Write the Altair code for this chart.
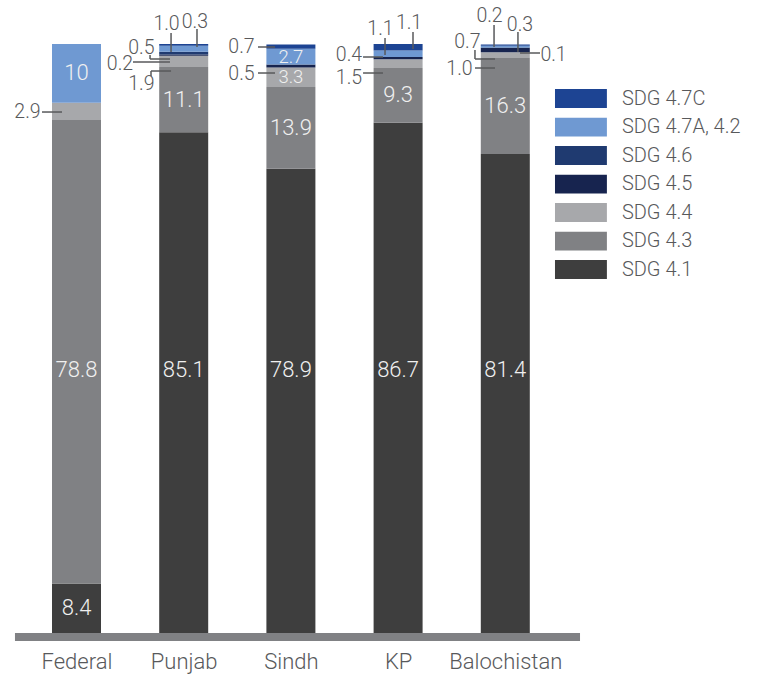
import altair as alt
import pandas as pd

# ---------------- data ----------------
regions = ["Federal", "Punjab", "Sindh", "KP", "Balochistan"]
# stack order, bottom -> top
series = ["SDG 4.1", "SDG 4.3", "SDG 4.4", "SDG 4.5", "SDG 4.6", "SDG 4.7A, 4.2", "SDG 4.7C"]
sdg_4_1 = [8.4, 85.1, 78.9, 86.7, 81.4]
sdg_4_3 = [78.8, 11.1, 13.9, 9.3, 16.3]
sdg_4_4 = [2.9, 1.9, 3.3, 1.5, 1.0]
sdg_4_5 = [0.0, 0.2, 0.5, 0.4, 0.7]
sdg_4_6 = [0.0, 0.5, 0.0, 0.0, 0.1]
sdg_4_7a = [10.0, 1.0, 2.7, 1.1, 0.3]
sdg_4_7c = [0.0, 0.3, 0.7, 1.1, 0.2]
series_values = [sdg_4_1, sdg_4_3, sdg_4_4, sdg_4_5, sdg_4_6, sdg_4_7a, sdg_4_7c]
series_colors = ["#3e3e3e", "#808184", "#a7a8ab", "#17244f", "#1f3a70", "#6f99d2", "#1d4493"]

# segments labelled outside the bar with a leader line: (region, series)
callout_segments = [
    ("Federal", "SDG 4.4"),
    ("Punjab", "SDG 4.4"), ("Punjab", "SDG 4.5"), ("Punjab", "SDG 4.6"),
    ("Punjab", "SDG 4.7A, 4.2"), ("Punjab", "SDG 4.7C"),
    ("Sindh", "SDG 4.5"), ("Sindh", "SDG 4.7C"),
    ("KP", "SDG 4.4"), ("KP", "SDG 4.5"), ("KP", "SDG 4.7A, 4.2"), ("KP", "SDG 4.7C"),
    ("Balochistan", "SDG 4.4"), ("Balochistan", "SDG 4.5"), ("Balochistan", "SDG 4.6"),
    ("Balochistan", "SDG 4.7A, 4.2"), ("Balochistan", "SDG 4.7C"),
]

# callout label placement: region, label, offset from bar centre (in bar steps), height (value units)
callout_region = ["Federal", "Punjab", "Punjab", "Punjab", "Punjab", "Punjab",
                  "Sindh", "Sindh", "KP", "KP", "KP", "KP",
                  "Balochistan", "Balochistan", "Balochistan", "Balochistan", "Balochistan"]
callout_label = ["2.9", "1.0", "0.3", "0.5", "0.2", "1.9",
                 "0.7", "0.5", "1.1", "1.1", "0.4", "1.5",
                 "0.2", "0.3", "0.1", "0.7", "1.0"]
callout_dx = [-0.457, -0.160, 0.105, -0.394, -0.594, -0.394,
              -0.461, -0.461, -0.164, 0.102, -0.458, -0.458,
              -0.147, 0.137, 0.450, -0.353, -0.427]
callout_y = [88.54, 103.50, 103.92, 99.34, 96.62, 93.30,
             99.59, 95.00, 102.73, 103.67, 98.15, 94.24,
             104.86, 103.41, 98.23, 100.36, 95.77]

# leader line segments: region, start/end offset from bar centre, start/end height
leader_region = ["Federal", "Punjab", "Punjab", "Punjab", "Punjab", "Punjab", "Punjab", "Punjab",
                 "Sindh", "Sindh", "KP", "KP", "KP", "KP",
                 "Balochistan", "Balochistan", "Balochistan", "Balochistan", "Balochistan", "Balochistan"]
leader_dx1 = [-0.322, -0.118, 0.124, -0.314, -0.314, -0.473, -0.305, -0.305,
              -0.307, -0.307, -0.122, 0.139, -0.327, -0.327,
              -0.105, 0.118, 0.137, -0.283, -0.283, -0.283]
leader_dx2 = [-0.135, -0.118, 0.124, -0.314, -0.128, -0.128, -0.305, -0.118,
              -0.148, -0.148, -0.122, 0.139, -0.141, -0.141,
              -0.105, 0.118, 0.324, -0.283, -0.096, -0.096]
leader_y1 = [88.54, 101.97, 102.65, 98.23, 97.55, 97.04, 94.66, 95.51,
             99.59, 95.17, 101.12, 102.14, 97.89, 95.17,
             103.33, 102.14, 98.57, 99.08, 97.55, 96.02]
leader_y2 = [88.54, 98.74, 99.59, 97.55, 97.55, 97.04, 95.51, 95.51,
             99.59, 95.17, 98.23, 99.25, 97.89, 95.17,
             99.59, 98.74, 98.57, 97.55, 97.55, 96.02]

# ---------------- tables ----------------
def fmt(v):
    return f"{v:.0f}" if v >= 10 and v == int(v) else f"{v:.1f}"

rows = []
for si, (s, vals) in enumerate(zip(series, series_values)):
    for ri, r in enumerate(regions):
        v = vals[ri]
        if v > 0:
            rows.append(dict(region=r, idx=ri, series=s, ord=si, v=v, label=fmt(v),
                             inside=(r, s) not in callout_segments))
df = pd.DataFrame(rows)

callouts = pd.DataFrame(dict(idx=[regions.index(r) for r in callout_region],
                             dx=callout_dx, y=callout_y, label=callout_label))
leaders = pd.DataFrame(dict(idx=[regions.index(r) for r in leader_region],
                            dx1=leader_dx1, dx2=leader_dx2, y1=leader_y1, y2=leader_y2))

FONT = "Roboto"
TXT = "#58595b"

x_scale = alt.Scale(domain=[-0.5, len(regions) - 0.5], nice=False, zero=False, padding=0)
y_scale = alt.Scale(domain=[0, 100.1], nice=False, zero=True, padding=0)

label_expr = "[" + ",".join(f"'{r}'" for r in regions) + "][datum.value]"
x_axis = alt.Axis(values=list(range(len(regions))), labelExpr=label_expr, title=None,
                  grid=False, ticks=False, domain=False, labelFontSize=22,
                  labelFontWeight=300, labelColor=TXT, labelFont=FONT, labelPadding=18,
                  labelFlush=False, labelOverlap=False)

legend_order = series[::-1]
legend_colors = series_colors[::-1]

bars = alt.Chart(df).mark_bar(size=49).encode(
    x=alt.X("idx:Q", scale=x_scale, axis=x_axis),
    y=alt.Y("v:Q", stack="zero", scale=y_scale, axis=None),
    color=alt.Color("series:N", scale=alt.Scale(domain=legend_order, range=legend_colors),
                    legend=alt.Legend(orient="none", legendX=532, legendY=45, title=None,
                                      symbolType="M-1,-0.365L1,-0.365L1,0.365L-1,0.365Z",
                                      symbolSize=2704, symbolStrokeWidth=0, symbolOpacity=1,
                                      labelFontSize=20, labelFontWeight=300, labelColor=TXT,
                                      labelFont=FONT, labelOffset=15, rowPadding=7.5,
                                      clipHeight=19, padding=0)),
    order=alt.Order("ord:Q"),
)

baseline = alt.Chart(pd.DataFrame({"k": [0]})).mark_rule(
    strokeWidth=8, yOffset=4, color="#808184"
).encode(
    x=alt.X(datum=-0.574, scale=x_scale, axis=x_axis),
    x2=alt.X2(datum=4.697),
    y=alt.Y(datum=0, scale=y_scale, axis=None),
)

inside_labels = alt.Chart(df).transform_stack(
    stack="v", groupby=["idx"], sort=[alt.SortField("ord")], as_=["y0", "y1"]
).transform_filter("datum.inside").transform_calculate(
    ym="datum.v >= 50 ? 44.7 : (datum.y0 + datum.y1) / 2",
    fs="datum.v < 5 ? 18.5 : 22",
).mark_text(font=FONT, fontWeight=300, color="#f0f0f0", baseline="middle").encode(
    x=alt.X("idx:Q", scale=x_scale, axis=x_axis),
    y=alt.Y("ym:Q", scale=y_scale, axis=None),
    size=alt.Size("fs:Q", scale=None, legend=None),
    text="label:N",
)

callout_text = alt.Chart(callouts).transform_calculate(
    xc="datum.idx + datum.dx"
).mark_text(fontSize=19.5, font=FONT, fontWeight=300, color=TXT, baseline="middle").encode(
    x=alt.X("xc:Q", scale=x_scale, axis=x_axis),
    y=alt.Y("y:Q", scale=y_scale, axis=None),
    text="label:N",
)

leader_lines = alt.Chart(leaders).transform_calculate(
    xa="datum.idx + datum.dx1", xb="datum.idx + datum.dx2"
).mark_rule(color=TXT, strokeWidth=1.5).encode(
    x=alt.X("xa:Q", scale=x_scale, axis=x_axis),
    x2="xb:Q",
    y=alt.Y("y1:Q", scale=y_scale, axis=None),
    y2="y2:Q",
)

chart = alt.layer(bars, baseline, inside_labels, leader_lines, callout_text).properties(
    width=536, height=589,
    autosize=alt.AutoSizeParams(type="none"),
    padding={"left": 22.9, "top": 44, "right": 199.1, "bottom": 48},
).configure_view(stroke=None)

chart.save("out.html", embed_options={"renderer": "svg", "actions": False})
